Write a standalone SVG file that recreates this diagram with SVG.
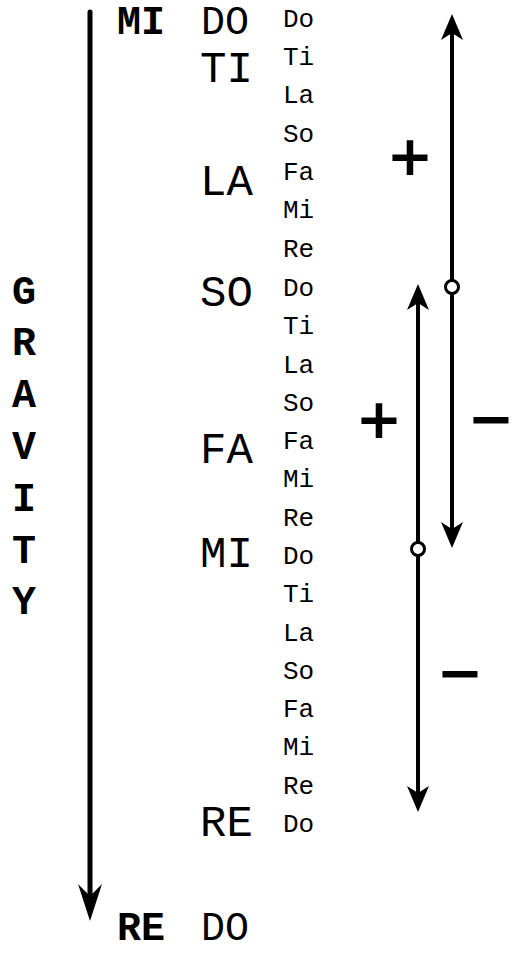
<svg xmlns="http://www.w3.org/2000/svg" width="514" height="954" viewBox="0 0 514 954">
<style>
.sm{font-family:"Liberation Mono","Courier New",monospace;font-size:26px;fill:#000}
.bg{font-family:"Liberation Mono","Courier New",monospace;font-size:44px;fill:#000}
.bd{font-family:"Liberation Mono","Courier New",monospace;font-size:44px;font-weight:bold;fill:#000}
.edge{font-size:40px}
.gv{font-family:"Liberation Mono","Courier New",monospace;font-size:40px;font-weight:bold;fill:#000;text-anchor:middle}
.sg{font-family:"DejaVu Sans",sans-serif;font-size:56px;font-weight:bold;fill:#000;text-anchor:middle}
.ln{stroke:#000;fill:none}
.hd{fill:#000;stroke:none}
.dot{fill:#fff;stroke:#000;stroke-width:3}
</style>
<rect width="514" height="954" fill="#fff"/>
<g id="connectors">
  <line class="ln" x1="90" y1="12" x2="90" y2="900" stroke-width="5" stroke-linecap="round"/>
  <path class="hd" d="M90,921 L78,884 L90,896 L102,884 Z"/>
  <line class="ln" x1="452" y1="30" x2="452" y2="532" stroke-width="4"/>
  <path class="hd" d="M452,14 L441,40 L452,33 L463,40 Z"/>
  <path class="hd" d="M452,548 L441,522 L452,529 L463,522 Z"/>
  <line class="ln" x1="418" y1="300" x2="418" y2="796" stroke-width="4"/>
  <path class="hd" d="M418,284 L407,310 L418,303 L429,310 Z"/>
  <path class="hd" d="M418,812 L407,786 L418,793 L429,786 Z"/>
  <circle class="dot" cx="452" cy="287" r="6.5"/>
  <circle class="dot" cx="418" cy="549" r="6.5"/>
</g>
<g id="gravity">
  <text class="gv" x="24" y="304">G</text>
  <text class="gv" x="24" y="355">R</text>
  <text class="gv" x="24" y="407">A</text>
  <text class="gv" x="24" y="459">V</text>
  <text class="gv" x="24" y="511">I</text>
  <text class="gv" x="24" y="563">T</text>
  <text class="gv" x="24" y="614">Y</text>
</g>
<g id="top-label">
  <text class="bd edge" x="117" y="34">MI</text>
  <text class="bg edge" x="201" y="34">DO</text>
</g>
<g id="big-notes">
  <text class="bg" x="200" y="82">TI</text>
  <text class="bg" x="200" y="195">LA</text>
  <text class="bg" x="200" y="306">SO</text>
  <text class="bg" x="200" y="463">FA</text>
  <text class="bg" x="200" y="567">MI</text>
  <text class="bg" x="200" y="836">RE</text>
</g>
<g id="small-notes">
  <text class="sm" x="283" y="27">Do</text>
  <text class="sm" x="283" y="65">Ti</text>
  <text class="sm" x="283" y="103">La</text>
  <text class="sm" x="283" y="142">So</text>
  <text class="sm" x="283" y="180">Fa</text>
  <text class="sm" x="283" y="218">Mi</text>
  <text class="sm" x="283" y="257">Re</text>
  <text class="sm" x="283" y="296">Do</text>
  <text class="sm" x="283" y="334">Ti</text>
  <text class="sm" x="283" y="373">La</text>
  <text class="sm" x="283" y="411">So</text>
  <text class="sm" x="283" y="449">Fa</text>
  <text class="sm" x="283" y="487">Mi</text>
  <text class="sm" x="283" y="526">Re</text>
  <text class="sm" x="283" y="564">Do</text>
  <text class="sm" x="283" y="602">Ti</text>
  <text class="sm" x="283" y="641">La</text>
  <text class="sm" x="283" y="679">So</text>
  <text class="sm" x="283" y="717">Fa</text>
  <text class="sm" x="283" y="755">Mi</text>
  <text class="sm" x="283" y="794">Re</text>
  <text class="sm" x="283" y="832">Do</text>
</g>
<g id="bottom-label">
  <text class="bd edge" x="117" y="940">RE</text>
  <text class="bg edge" x="201" y="940">DO</text>
</g>
<g id="signs">
  <text class="sg" x="410" y="175">+</text>
  <text class="sg" x="379" y="438">+</text>
  <text class="sg" x="491" y="438">−</text>
  <text class="sg" x="460" y="692">−</text>
</g>
</svg>
